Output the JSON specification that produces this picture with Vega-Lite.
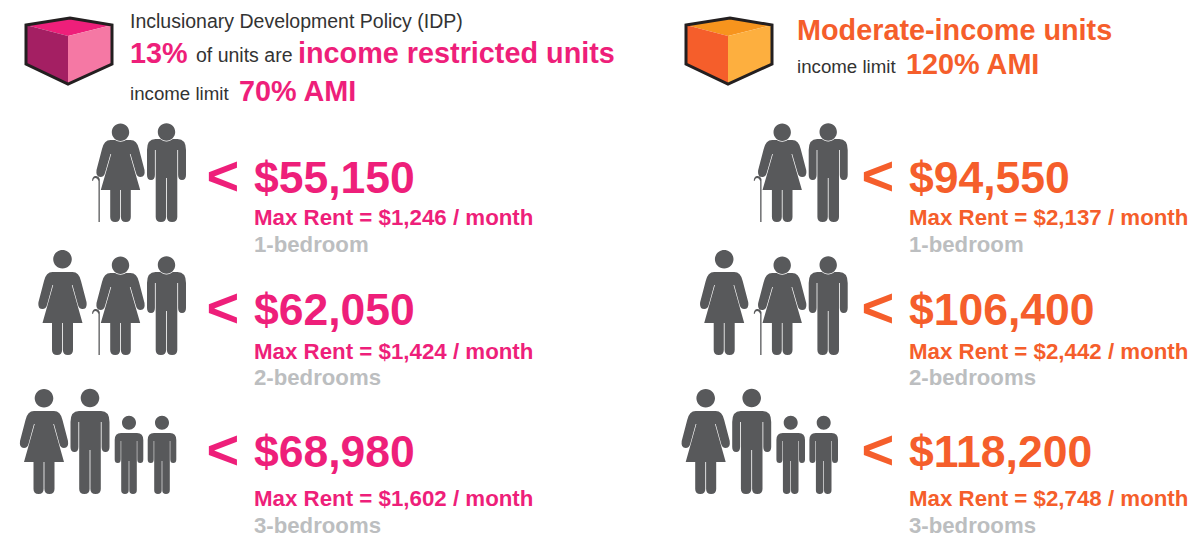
{
"$schema":"https://vega.github.io/schema/vega-lite/v6.json",
"width":1193,"height":535,"padding":0,
"autosize":{"type":"fit","contains":"padding"},
"background":"#ffffff",
"config":{"view":{"stroke":null},"text":{"font":"Liberation Sans"}},
"datasets":{
"tiers":[
{"panel":"IDP","bedrooms":1,"income":55150,"rent":"Max Rent = $1,246 / month","unit":"1-bedroom"},
{"panel":"IDP","bedrooms":2,"income":62050,"rent":"Max Rent = $1,424 / month","unit":"2-bedrooms"},
{"panel":"IDP","bedrooms":3,"income":68980,"rent":"Max Rent = $1,602 / month","unit":"3-bedrooms"},
{"panel":"Moderate","bedrooms":1,"income":94550,"rent":"Max Rent = $2,137 / month","unit":"1-bedroom"},
{"panel":"Moderate","bedrooms":2,"income":106400,"rent":"Max Rent = $2,442 / month","unit":"2-bedrooms"},
{"panel":"Moderate","bedrooms":3,"income":118200,"rent":"Max Rent = $2,748 / month","unit":"3-bedrooms"}
],
"people":[
{"panel":"IDP","bedrooms":1,"seat":4,"figure":"elder"},
{"panel":"IDP","bedrooms":1,"seat":7,"figure":"man"},
{"panel":"IDP","bedrooms":2,"seat":2,"figure":"woman"},
{"panel":"IDP","bedrooms":2,"seat":4,"figure":"elder"},
{"panel":"IDP","bedrooms":2,"seat":7,"figure":"man"},
{"panel":"IDP","bedrooms":3,"seat":1,"figure":"woman"},
{"panel":"IDP","bedrooms":3,"seat":3,"figure":"father"},
{"panel":"IDP","bedrooms":3,"seat":5,"figure":"child"},
{"panel":"IDP","bedrooms":3,"seat":6,"figure":"child"},
{"panel":"Moderate","bedrooms":1,"seat":4,"figure":"elder"},
{"panel":"Moderate","bedrooms":1,"seat":7,"figure":"man"},
{"panel":"Moderate","bedrooms":2,"seat":2,"figure":"woman"},
{"panel":"Moderate","bedrooms":2,"seat":4,"figure":"elder"},
{"panel":"Moderate","bedrooms":2,"seat":7,"figure":"man"},
{"panel":"Moderate","bedrooms":3,"seat":1,"figure":"woman"},
{"panel":"Moderate","bedrooms":3,"seat":3,"figure":"father"},
{"panel":"Moderate","bedrooms":3,"seat":5,"figure":"child"},
{"panel":"Moderate","bedrooms":3,"seat":6,"figure":"child"}
],
"cube":[
{"panel":"IDP","face":"top","piece":"IDP top"},
{"panel":"IDP","face":"left","piece":"IDP left"},
{"panel":"IDP","face":"right","piece":"IDP right"},
{"panel":"Moderate","face":"top","piece":"Moderate top"},
{"panel":"Moderate","face":"left","piece":"Moderate left"},
{"panel":"Moderate","face":"right","piece":"Moderate right"}
],
"header":[
{"panel":"IDP","line":1,"column":1,"style":"lead","text":"Inclusionary Development Policy (IDP)"},
{"panel":"IDP","line":3,"column":1,"style":"big","text":"13%"},
{"panel":"IDP","line":3,"column":2,"style":"lead","text":"of units are"},
{"panel":"IDP","line":3,"column":4,"style":"big","text":"income restricted units"},
{"panel":"IDP","line":5,"column":1,"style":"plain","text":"income limit"},
{"panel":"IDP","line":5,"column":3,"style":"big","text":"70% AMI"},
{"panel":"Moderate","line":2,"column":1,"style":"big","text":"Moderate-income units"},
{"panel":"Moderate","line":4,"column":1,"style":"plain","text":"income limit"},
{"panel":"Moderate","line":4,"column":3,"style":"big","text":"120% AMI"}
]
},
"resolve":{"scale":{"x":"independent","y":"independent","xOffset":"independent","shape":"independent","color":"independent","size":"independent"}},
"layer":[
{"data":{"name":"cube"},
 "mark":{"type":"point","filled":true,"size":4,"opacity":1,"strokeWidth":0},
 "encoding":{
  "x":{"field":"panel","type":"nominal","axis":null,"scale":{"type":"point","domain":["IDP","Moderate"],"range":[68,728],"padding":0}},
  "y":{"field":"panel","type":"nominal","axis":null,"scale":{"type":"point","domain":["IDP","Moderate"],"range":[36,36],"padding":0}},
  "shape":{"field":"face","type":"nominal","legend":null,"scale":{"domain":["top","left","right"],"range":["M-42 -11 L2 -18 L44 -11 L0 0 Z","M-42 -11 L0 0 L0 48 L-42 28 Z","M0 0 L44 -11 L44 28 L0 48 Z"]}},
  "color":{"field":"piece","type":"nominal","legend":null,"scale":{"domain":["IDP top","IDP left","IDP right","Moderate top","Moderate left","Moderate right"],"range":["#ee1f7a","#a41f63","#f578a4","#f7941d","#f55e2b","#fdaf3f"]}}
 }},
{"data":{"name":"cube"},
 "transform":[{"filter":"datum.face == 'top'"}],
 "mark":{"type":"point","filled":false,"size":4,"opacity":1,"stroke":"#231f20","strokeWidth":3,"shape":"M-42 -11 L2 -18 L44 -11 L44 28 L0 48 L-42 28 Z"},
 "encoding":{
  "x":{"field":"panel","type":"nominal","axis":null,"scale":{"type":"point","domain":["IDP","Moderate"],"range":[68,728],"padding":0}},
  "y":{"field":"panel","type":"nominal","axis":null,"scale":{"type":"point","domain":["IDP","Moderate"],"range":[36,36],"padding":0}}
 }},
{"data":{"name":"header"},
 "transform":[{"filter":"datum.style != 'big'"}],
 "mark":{"type":"text","align":"left","baseline":"alphabetic","color":"#333333"},
 "encoding":{
  "x":{"field":"panel","type":"nominal","axis":null,"scale":{"type":"point","domain":["IDP","Moderate"],"range":[0,667],"padding":0}},
  "xOffset":{"field":"column","type":"quantitative","scale":{"domain":[1,2,3,4],"range":[130,196,239,298],"zero":false,"nice":false}},
  "y":{"field":"line","type":"quantitative","axis":null,"scale":{"domain":[1,2,3,4,5],"range":[28,40,62,73,100],"zero":false,"nice":false}},
  "size":{"field":"style","type":"ordinal","legend":null,"scale":{"domain":["lead","plain"],"range":[19.5,18.7]}},
  "text":{"field":"text"}
 }},
{"data":{"name":"header"},
 "transform":[{"filter":"datum.style == 'big'"}],
 "mark":{"type":"text","align":"left","baseline":"alphabetic","fontSize":28.8,"fontWeight":"bold"},
 "encoding":{
  "x":{"field":"panel","type":"nominal","axis":null,"scale":{"type":"point","domain":["IDP","Moderate"],"range":[0,667],"padding":0}},
  "xOffset":{"field":"column","type":"quantitative","scale":{"domain":[1,2,3,4],"range":[130,196,239,298],"zero":false,"nice":false}},
  "y":{"field":"line","type":"quantitative","axis":null,"scale":{"domain":[1,2,3,4,5],"range":[28,40,63,74,101],"zero":false,"nice":false}},
  "color":{"field":"panel","type":"nominal","legend":null,"scale":{"domain":["IDP","Moderate"],"range":["#ee1f7a","#f55e2b"]}},
  "text":{"field":"text"}
 }},
{"data":{"name":"people"},
 "mark":{"type":"point","filled":true,"size":4,"opacity":1,"strokeWidth":0,"color":"#58595b"},
 "encoding":{
  "x":{"field":"panel","type":"nominal","axis":null,"scale":{"type":"point","domain":["IDP","Moderate"],"range":[0,661.7],"padding":0}},
  "xOffset":{"field":"seat","type":"quantitative","scale":{"domain":[1,2,3,4,5,6,7],"range":[44,62.5,90,120.5,129,162,166.5],"zero":false,"nice":false}},
  "y":{"field":"bedrooms","type":"quantitative","axis":null,"scale":{"domain":[1,2,3],"range":[222,355,494],"zero":false,"nice":false}},
  "shape":{"field":"figure","type":"nominal","legend":null,"scale":{"domain":["elder","man","father","woman","child"],"range":[
   "M-8.7 -89.7 A8.7 8.7 0 1 1 8.7 -89.7 A8.7 8.7 0 1 1 -8.7 -89.7 Z M-10 -82 L-5.4 -82 A9.4 9.4 0 0 0 5.4 -82 L10 -82 Q16.5 -82 18.5 -73 L24 -52 Q25 -45 20 -45 Q16.5 -45 15.5 -49 L10 -68 L9.3 -68 L19.7 -32 L10.3 -32 L10.3 -5 Q10.3 0 5.3 0 Q0.4 0 0.4 -5 L0.4 -32 L-0.4 -32 L-0.4 -5 Q-0.4 0 -5.3 0 Q-10.3 0 -10.3 -5 L-10.3 -32 L-19.7 -32 L-9.3 -68 L-10 -68 L-15.5 -49 Q-16.5 -45 -20 -45 Q-25 -45 -24 -52 L-18.5 -73 Q-16.5 -82 -10 -82 Z M-22 0 L-22 -41 Q-23 -44 -25 -44 Q-27 -44 -27.5 -41 L-28.5 -41.5 Q-28 -46 -25 -46 Q-22 -46.5 -20.7 -43 L-20.7 0 Z",
   "M-8.7 -90 A8.7 8.7 0 1 1 8.7 -90 A8.7 8.7 0 1 1 -8.7 -90 Z M-11 -83 L-6.3 -83 A9.4 9.4 0 0 0 6.3 -83 L11 -83 Q19.5 -83 19.5 -72 L19.5 -47 Q19.5 -42 15.5 -42 Q11.6 -42 11.6 -47 L11.6 -72 L10.8 -72 L10.8 -5 Q10.8 0 5.6 0 Q0.4 0 0.4 -5 L0.4 -44 L-0.4 -44 L-0.4 -5 Q-0.4 0 -5.6 0 Q-10.8 0 -10.8 -5 L-10.8 -72 L-11.6 -72 L-11.6 -47 Q-11.6 -42 -15.5 -42 Q-19.5 -42 -19.5 -47 L-19.5 -72 Q-19.5 -83 -11 -83 Z",
   "M-9.3 -96 A9.3 9.3 0 1 1 9.3 -96 A9.3 9.3 0 1 1 -9.3 -96 Z M-11 -83 L11 -83 Q19.5 -83 19.5 -72 L19.5 -47 Q19.5 -42 15.5 -42 Q11.6 -42 11.6 -47 L11.6 -72 L10.8 -72 L10.8 -5 Q10.8 0 5.6 0 Q0.4 0 0.4 -5 L0.4 -44 L-0.4 -44 L-0.4 -5 Q-0.4 0 -5.6 0 Q-10.8 0 -10.8 -5 L-10.8 -72 L-11.6 -72 L-11.6 -47 Q-11.6 -42 -15.5 -42 Q-19.5 -42 -19.5 -47 L-19.5 -72 Q-19.5 -83 -11 -83 Z",
   "M-9.3 -95.7 A9.3 9.3 0 1 1 9.3 -95.7 A9.3 9.3 0 1 1 -9.3 -95.7 Z M-10 -83 L10 -83 Q16.5 -83 18.5 -74 L24 -53 Q25 -46 20 -46 Q16.5 -46 15.5 -50 L10 -70 L9.3 -70 L20 -32 L10.5 -32 L10.5 -5 Q10.5 0 5.4 0 Q0.4 0 0.4 -5 L0.4 -32 L-0.4 -32 L-0.4 -5 Q-0.4 0 -5.4 0 Q-10.5 0 -10.5 -5 L-10.5 -32 L-20 -32 L-9.3 -70 L-10 -70 L-15.5 -50 Q-16.5 -46 -20 -46 Q-25 -46 -24 -53 L-18.5 -74 Q-16.5 -83 -10 -83 Z",
   "M-7 -71.3 A7 7 0 1 1 7 -71.3 A7 7 0 1 1 -7 -71.3 Z M-8 -61 L8 -61 Q14.3 -61 14.3 -54 L14.3 -34.5 Q14.3 -31 11.2 -31 Q8.3 -31 8.3 -34.5 L8.3 -53 L7.8 -53 L7.8 -3.8 Q7.8 0 4 0 Q0.3 0 0.3 -3.8 L0.3 -33 L-0.3 -33 L-0.3 -3.8 Q-0.3 0 -4 0 Q-7.8 0 -7.8 -3.8 L-7.8 -53 L-8.3 -53 L-8.3 -34.5 Q-8.3 -31 -11.2 -31 Q-14.3 -31 -14.3 -34.5 L-14.3 -54 Q-14.3 -61 -8 -61 Z"
  ]}}
 }},
{"data":{"name":"tiers"},
 "mark":{"type":"text","align":"left","baseline":"alphabetic","fontSize":56,"fontWeight":"bold","text":"<"},
 "encoding":{
  "x":{"field":"panel","type":"nominal","axis":null,"scale":{"type":"point","domain":["IDP","Moderate"],"range":[206.5,861.5],"padding":0}},
  "y":{"field":"bedrooms","type":"quantitative","axis":null,"scale":{"domain":[1,2,3],"range":[195,327,469],"zero":false,"nice":false}},
  "color":{"field":"panel","type":"nominal","legend":null,"scale":{"domain":["IDP","Moderate"],"range":["#ee1f7a","#f55e2b"]}}
 }},
{"data":{"name":"tiers"},
 "mark":{"type":"text","align":"left","baseline":"alphabetic","fontSize":44.5,"fontWeight":"bold"},
 "encoding":{
  "x":{"field":"panel","type":"nominal","axis":null,"scale":{"type":"point","domain":["IDP","Moderate"],"range":[254,909],"padding":0}},
  "y":{"field":"bedrooms","type":"quantitative","axis":null,"scale":{"domain":[1,2,3],"range":[193,325,467],"zero":false,"nice":false}},
  "color":{"field":"panel","type":"nominal","legend":null,"scale":{"domain":["IDP","Moderate"],"range":["#ee1f7a","#f55e2b"]}},
  "text":{"field":"income","type":"quantitative","format":"$,.0f"}
 }},
{"data":{"name":"tiers"},
 "mark":{"type":"text","align":"left","baseline":"alphabetic","fontSize":22.3,"fontWeight":"bold"},
 "encoding":{
  "x":{"field":"panel","type":"nominal","axis":null,"scale":{"type":"point","domain":["IDP","Moderate"],"range":[254,909],"padding":0}},
  "y":{"field":"bedrooms","type":"quantitative","axis":null,"scale":{"domain":[1,2,3],"range":[225,359,506],"zero":false,"nice":false}},
  "color":{"field":"panel","type":"nominal","legend":null,"scale":{"domain":["IDP","Moderate"],"range":["#ee1f7a","#f55e2b"]}},
  "text":{"field":"rent"}
 }},
{"data":{"name":"tiers"},
 "mark":{"type":"text","align":"left","baseline":"alphabetic","fontSize":22.2,"fontWeight":"bold","color":"#bcbec0"},
 "encoding":{
  "x":{"field":"panel","type":"nominal","axis":null,"scale":{"type":"point","domain":["IDP","Moderate"],"range":[254,909],"padding":0}},
  "y":{"field":"bedrooms","type":"quantitative","axis":null,"scale":{"domain":[1,2,3],"range":[252,385,533],"zero":false,"nice":false}},
  "text":{"field":"unit"}
 }}
]
}
